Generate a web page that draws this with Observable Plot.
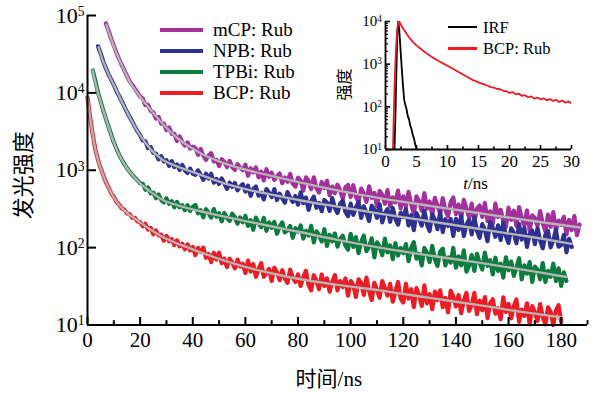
<!DOCTYPE html>
<html><head><meta charset="utf-8">
<script src="https://cdn.jsdelivr.net/npm/d3@7"></script>
<script src="https://cdn.jsdelivr.net/npm/@observablehq/plot@0.6"></script>
<style>
html,body{margin:0;padding:0;background:#fff;}
#wrap{position:relative;width:601px;height:393px;overflow:hidden;font-family:"Liberation Serif","Noto Sans CJK SC",serif;color:#000;}
#main{position:absolute;left:0;top:0;}
#inset{position:absolute;left:330px;top:0;}
</style></head><body>
<div id="wrap"><div id="main"></div><div id="inset"></div><div id="legend"></div></div>
<script>
// ---------- main chart data: 1 ns channels, intensity in counts ----------
const mcpTime = d3.range(7, 188, 1);
const mcpValues = [79000,63500,50200,40800,32900,27400,22900,19600,16500,14200,12700,11300,10000,9000,
 8420,6940,7000,5850,5610,4660,4890,4000,4010,3300,3570,2960,2960,2390,2740,2320,2080,2290,1900,2020,
 1950,1580,1880,1550,1360,1560,1660,1300,1360,1135,1390,1270,1100,1320,1100,1010,1200,1075,1000,1180,
 850,1060,935,1090,810,960,740,1030,825,930,750,830,910,680,805,710,900,670,615,800,
 735,545,810,730,570,810,585,515,705,590,730,475,615,505,650,550,430,600,645,450,
 640,455,390,580,500,390,620,440,510,345,540,480,370,555,340,445,385,545,320,460,
 340,525,365,275,460,400,300,505,320,395,265,440,347,280,435,305,255,385,445,270,
 360,240,415,315,250,370,212,320,350,250,378,222,294,204,371,250,308,221,185,328,
 228,300,189,334,240,194,302,166,261,242,190,296,206,162,268,186,288,165,224,196,
 250,148,228,169,255,145,199];
const npbTime = d3.range(4, 185, 1);
const npbValues = [40000,32300,25300,20700,17300,14900,12700,10600,9100,7850,6650,5650,4900,4250,3650,3180,2830,
 2420,2370,1930,1990,1680,1650,1380,1520,1300,1350,1140,1310,1100,1190,1010,1170,1000,920,1050,900,
 870,995,880,750,900,780,900,690,770,665,785,676,575,690,610,685,550,615,660,530,
 630,468,572,616,470,513,420,571,512,450,571,412,497,434,380,522,443,389,464,359,
 517,375,444,307,403,456,327,379,296,413,380,298,437,326,281,369,407,291,254,370,
 265,328,390,242,343,280,221,348,308,243,363,212,277,314,216,325,236,198,281,248,
 316,194,262,168,280,236,192,300,201,164,270,229,173,288,159,233,190,234,142,236,
 169,255,141,199,229,148,246,165,134,201,170,121,214,180,138,194,126,210,141,115,
 177,155,114,201,127,179,102,150,166,111,178,124,98,147,164,101,124,170,103,108,
 146,87,130,102];
const tpbiTime = d3.range(2, 183, 1);
const tpbiValues = [19500,14200,10100,7700,5900,4600,3650,2900,2300,1900,1590,1380,1200,1070,960,870,800,740,680,
 667,560,600,504,513,435,486,414,383,434,368,399,332,390,333,353,305,353,299,335,
 356,278,305,247,314,280,244,315,251,278,219,281,242,221,274,248,204,246,212,256,
 191,227,170,244,207,184,242,165,212,180,215,151,186,212,157,168,190,134,178,161,
 193,131,165,143,191,117,162,145,120,173,105,147,121,152,103,130,142,106,94,151,
 102,137,85,118,143,90,102,132,75,117,103,80,131,87,107,71,114,79,99,85,
 111,67,99,118,72,83,59,99,86,65,105,71,58,89,97,59,75,64,99,55,
 77,59,92,49,59,80,50,83,64,52,86,58,69,45,74,50,62,41,75,51,
 66,43,55,73,39,59,46,65,36,57,52,39,63,36,50,42,62,37,54,32,
 48,37];
const bcpTime = d3.range(0, 181, 1);
const bcpValues = [8700,4800,2850,1850,1360,1060,860,700,595,505,455,392,360,322,310,276,272,244,243,218,214,
 189,203,171,180,149,167,144,147,123,142,121,129,108,124,104,112,95,110,92,102,
 80,99,87.5,100,74,83,65,86,70,86,63,72,56,72,64,54,70,57,62,47,
 68,49,61,42,53,63,42,47,53,37,55,48,38,51,40,35,52,41,36,45,
 32,42,50,33,28,44,37,29,45,32,40,27,36,44,28,37,31,40,24,37,
 33,23,39,35,24.5,41,27.5,21,35,28.4,22.5,37,30,24,34,20,27,36,22,19.5,
 34,22,29,17,30,24.5,17.6,32.5,19,25,16,27,21,28,17,22.4,14.6,27.7,23.2,17.4,
 24.4,14.2,20.7,26,15.2,18,26,13.8,20.7,15.5,23,12.3,19,21.5,14,16.5,11.9,22.7,14.8,18.7,
 12.2,17.6,21.4,11,15.8,13.1,19.1,10.2,17.5,14.6,11.3,18.6,12.6,10.2,16.9,14.7,10,15.4,18,11];
// fitted curves (read at knots)
const mcpFitT = [7.2,10,13,16,20,24,28,34,43,52,62,72,81,95,111,130,150,170,187];
const mcpFitV = [75900,39800,22900,14100,8910,6030,4170,2630,1660,1230,977,813,692,550,437,347,275,219,182];
const npbFitT = [4.2,6,8,10,12,14,16,18,20,24,28,34,43,52,62,72,81,95,111,130,150,170,184];
const npbFitV = [38900,25100,17400,12600,9120,6610,4900,3630,2820,1860,1410,1120,871,676,550,468,407,339,275,219,172,135,112];
const tpbiFitT = [1.9,4,6,8,10,12,14,16,20,24,29,35,43,52,62,72,81,95,111,130,150,170,182];
const tpbiFitV = [19500,10000,5890,3630,2290,1585,1200,955,676,525,407,347,295,251,214,182,158,126,100,79,63,49,41.7];
const bcpFitT = [0,1,2,3,4,6,8,10,12,15,19,24,29,35,43,52,62,72,81,95,111,130,150,165,180];
const bcpFitV = [8710,4790,2820,1860,1350,851,589,447,355,282,224,170,135,110,87,68,54,45,39,33,28,22.4,17.8,14.8,12.6];

const seriesNames = ["mCP: Rub","NPB: Rub","TPBi: Rub","BCP: Rub"];
const seriesColors = ["#a3309c","#2e3192","#0b7b3e","#ed1c24"];
const fitColor = "#b4b4b4";

const xMajor = [0,20,40,60,80,100,120,140,160,180];
const xMinor = [10,30,50,70,90,110,130,150,170,190];
const yMajor = [10,100,1000,10000,100000];

// ---------- inset data ----------
const irfT = [1.45,1.6,1.75,1.9,2.05,2.2,2.4,2.6,2.8,3.0,3.2,3.4,3.6,3.8,4.0,4.2,4.4,4.6,4.8,5.0,5.15];
const irfV = [10,60,600,5000,10000,7000,2500,900,350,150,110,88,60,50,36,30,22,18,13,10.5,9];
const bcpInsetT = [1.2,1.35,1.5,1.7,1.9,2.05,2.2,2.5,3,3.5,4,4.5,5,5.5,6,6.5,7,7.5,8,8.5,9,9.5,10,11,12,13,14,15,
 15.5,16,16.5,17,17.5,18,18.5,19,19.5,20,20.5,21,21.5,22,22.5,23,23.5,24,24.5,25,25.5,26,26.5,27,27.5,28,28.5,29,29.5,30];
const bcpInsetV = [10,80,500,2500,6500,9500,10000,8300,6300,4900,3900,3200,2750,2400,2100,1850,1650,1480,1330,1200,1090,1000,920,760,630,520,430,375,
 350,330,312,290,282,262,258,238,232,212,222,196,205,180,188,168,176,155,165,150,158,142,152,138,146,130,140,125,135,120];
const insetNames = ["IRF","BCP: Rub"];
const insetColors = ["#000000","#ed1c24"];
const insetXMajor = [0,5,10,15,20,25,30];
const insetXMinor = [2.5,7.5,12.5,17.5,22.5,27.5];
const insetYMajor = [10,100,1000,10000];
const insetYMinor = [20,30,40,50,60,70,80,90,200,300,400,500,600,700,800,900,2000,3000,4000,5000,6000,7000,8000,9000];

// ---------- build tables ----------
const raw = [[mcpTime,mcpValues],[npbTime,npbValues],[tpbiTime,tpbiValues],[bcpTime,bcpValues]];
const fits = [[mcpFitT,mcpFitV],[npbFitT,npbFitV],[tpbiFitT,tpbiFitV],[bcpFitT,bcpFitV]];
const dataRows = raw.flatMap(([T,V],k) => V.map((v,i) => ({s: seriesNames[k], t: T[i], v})));
const fitRows = fits.flatMap(([T,V],k) => V.map((v,i) => ({s: seriesNames[k], t: T[i], v})));
const insetRows = [[irfT,irfV],[bcpInsetT,bcpInsetV]].flatMap(([T,V],k) => V.map((v,i) => ({s: insetNames[k], t: T[i], v})));

const FONT = '"Liberation Serif","Noto Sans CJK SC",serif';
const expLabel = d => "10^" + Math.round(Math.log10(d));

function supify(svg, fs) {
  d3.select(svg).selectAll("text").each(function() {
    const m = /^10\^(\d+)$/.exec(this.textContent);
    if (m) {
      const t = d3.select(this);
      t.text("10");
      t.append("tspan").attr("font-size", (fs*0.62).toFixed(1)).attr("dy", (-fs*0.30).toFixed(1)).text(m[1]);
    }
    if (this.textContent === "t/ns") {
      const t = d3.select(this);
      t.text("");
      t.append("tspan").attr("font-style", "italic").text("t");
      t.append("tspan").text("/ns");
    }
  });
}

// ---------- main plot ----------
const mainSvg = Plot.plot({
  width: 601, height: 393,
  marginLeft: 87, marginRight: 14, marginTop: 15, marginBottom: 68.5,
  x: {domain: [0, 190], label: null},
  y: {type: "log", domain: [10, 100000], label: null},
  color: {domain: seriesNames, range: seriesColors},
  style: {fontFamily: FONT, fontSize: "21px", background: "transparent", overflow: "visible", color: "#000"},
  marks: [
    Plot.line(dataRows, {x: "t", y: "v", z: "s", stroke: "s", strokeWidth: 4.2, strokeLinejoin: "round"}),
    Plot.line(fitRows, {x: "t", y: "v", z: "s", stroke: fitColor, strokeWidth: 2.4, curve: "monotone-x"}),
    Plot.axisX({ticks: xMajor, tickSize: -7.5, tickPadding: 14.5, strokeWidth: 2, fontSize: 21, tickFormat: d => d, label: null}),
    Plot.axisX({ticks: xMinor, tickSize: -4.3, strokeWidth: 2, tickFormat: () => "", label: null}),
    Plot.axisY({ticks: yMajor, tickSize: -9, tickPadding: 12, strokeWidth: 2, fontSize: 22, tickFormat: expLabel, label: null}),
    Plot.ruleX([0], {strokeWidth: 2}),
    Plot.ruleY([10], {strokeWidth: 2}),
    Plot.text(["时间/ns"], {frameAnchor: "bottom", textAnchor: "middle", lineAnchor: "middle", dx: -8.7, dy: 54.5, fontSize: 21}),
    Plot.text(["发光强度"], {frameAnchor: "left", textAnchor: "middle", lineAnchor: "middle", rotate: -90, dx: -64, dy: 5, fontSize: 22})
  ]
});
document.getElementById("main").append(mainSvg);
supify(mainSvg, 22);

// ---------- inset plot ----------
const insetSvg = Plot.plot({
  width: 260, height: 195,
  marginLeft: 55, marginRight: 19, marginTop: 21, marginBottom: 46,
  x: {domain: [0, 30], label: null},
  y: {type: "log", domain: [10, 10000], label: null},
  color: {domain: insetNames, range: insetColors},
  style: {fontFamily: FONT, fontSize: "16px", background: "transparent", overflow: "visible", color: "#000"},
  marks: [
    Plot.line(insetRows, {x: "t", y: "v", z: "s", stroke: "s", strokeWidth: 1.8, clip: true}),
    Plot.axisX({ticks: insetXMajor, tickSize: -4, tickPadding: 9, strokeWidth: 1.6, fontSize: 17, tickFormat: d => d, label: null}),
    Plot.axisX({ticks: insetXMinor, tickSize: -2.5, strokeWidth: 1.6, tickFormat: () => "", label: null}),
    Plot.axisY({ticks: insetYMajor, tickSize: -5, tickPadding: 8.5, strokeWidth: 1.6, fontSize: 15, tickFormat: expLabel, label: null}),
    Plot.axisY({ticks: insetYMinor, tickSize: -3, strokeWidth: 1.2, tickFormat: () => "", label: null}),
    Plot.ruleX([0], {strokeWidth: 1.8}),
    Plot.ruleY([10], {strokeWidth: 1.8}),
    Plot.text(["t/ns"], {frameAnchor: "bottom", textAnchor: "middle", lineAnchor: "middle", dx: -3, dy: 34, fontSize: 17}),
    Plot.text(["强度"], {frameAnchor: "left", textAnchor: "middle", lineAnchor: "middle", rotate: -90, dx: -40.5, dy: -1, fontSize: 16})
  ]
});
document.getElementById("inset").append(insetSvg);
supify(insetSvg, 15);

// ---------- legends (HTML overlays) ----------
const legend = document.getElementById("legend");
function addLegend(names, colors, opt) {
  names.forEach((n, i) => {
    const cy = opt.y0 + i * opt.dy;
    const ln = document.createElement("div");
    ln.style.cssText = `position:absolute;left:${opt.x0}px;top:${cy - opt.lw/2}px;width:${opt.len}px;height:${opt.lw}px;background:${colors[i]};`;
    const tx = document.createElement("div");
    tx.textContent = n;
    tx.style.cssText = `position:absolute;left:${opt.tx}px;top:${cy - opt.lh/2}px;font-size:${opt.fs}px;line-height:${opt.lh}px;white-space:nowrap;`;
    legend.append(ln, tx);
  });
}
addLegend(seriesNames, seriesColors, {x0: 160, len: 43, lw: 4, tx: 213, y0: 30, dy: 21, fs: 19, lh: 18});
addLegend(insetNames, insetColors, {x0: 448, len: 29, lw: 2.2, tx: 483, y0: 27, dy: 21.5, fs: 16.5, lh: 15});
</script>
</body></html>
